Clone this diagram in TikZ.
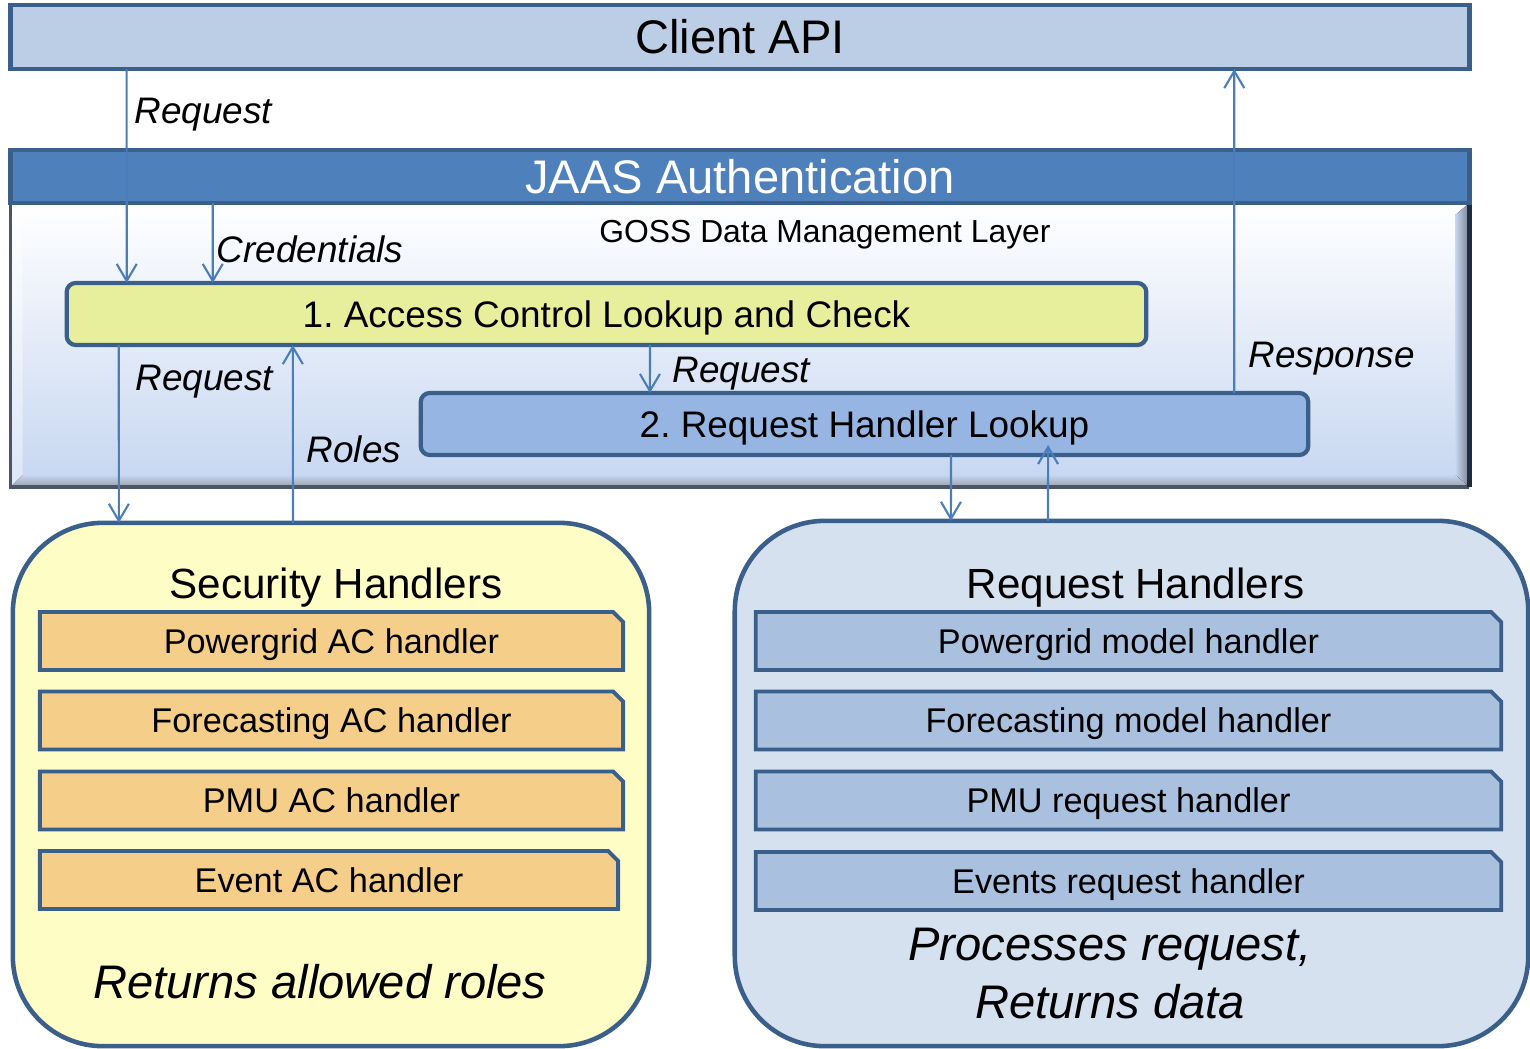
\documentclass[tikz,border=0pt]{standalone}
\usepackage{fontspec}
\setmainfont{Liberation Sans}
\usetikzlibrary{arrows.meta,shapes.misc}
\frenchspacing

\definecolor{edge}{HTML}{3A5F8B}
\definecolor{flowline}{HTML}{4A7EBB}
\definecolor{clientfill}{HTML}{BBCEE6}
\definecolor{jaasfill}{HTML}{4E80BC}
\definecolor{aclfill}{HTML}{E7EE9C}
\definecolor{rhlfill}{HTML}{96B5E3}
\definecolor{secfill}{HTML}{FFFDC6}
\definecolor{secitem}{HTML}{F5CE8A}
\definecolor{reqfill}{HTML}{D5E1EF}
\definecolor{reqitem}{HTML}{A9C0DF}
\definecolor{layerbot}{HTML}{C6D6F1}
\definecolor{layermid}{HTML}{D4E2F8}
\definecolor{layeredge}{HTML}{1E2B40}

\begin{document}
\begin{tikzpicture}[x=0.01cm, y=-0.01cm,
    bar/.style ={rectangle, draw=edge, line width=1.2pt, minimum width=14.58cm,
                 inner sep=0pt, outer sep=0pt, text height=9.6pt, text depth=0pt,
                 font=\fontsize{13.4}{16}\selectfont},
    lookup/.style ={rectangle, rounded corners=0.09cm, draw=edge, line width=1.2pt,
                 minimum height=0.62cm, inner sep=0pt, outer sep=0pt, text height=7.5pt, text depth=0pt,
                 font=\fontsize{10.5}{12.6}\selectfont},
    group/.style ={rectangle, rounded corners=0.9cm, draw=edge, line width=1.3pt,
                 inner sep=0pt, outer sep=0pt},
    handler/.style ={chamfered rectangle, chamfered rectangle corners=north east,
                 chamfered rectangle xsep=0.05cm, chamfered rectangle ysep=0.05cm,
                 draw=edge, line width=1.1pt, minimum height=0.58cm, inner sep=0pt,
                 text height=7pt, text depth=0pt,
                 font=\fontsize{9.75}{11.7}\selectfont},
    title/.style ={anchor=base, inner sep=0pt, font=\fontsize{12}{14}\selectfont},
    lbl/.style ={anchor=base west, inner sep=0pt, font=\fontsize{10.5}{12.6}\selectfont\itshape},
    flow/.style ={draw=flowline, line width=0.6pt, -{Straight Barb[length=0.17cm,width=0.2cm]}}]
   \useasboundingbox (0,0) rectangle (1530,1048);

   % management layer with bevel
   \node[rectangle, minimum width=14.58cm, minimum height=2.84cm, inner sep=0pt, outer sep=0pt,
         top color=white, middle color=layermid, bottom color=layerbot] (goss) at (740,345) {};
   \fill[white, opacity=0.7] (goss.north west) -- (goss.north east)
      -- ([xshift=-0.12cm,yshift=-0.12cm]goss.north east) -- ([xshift=0.12cm,yshift=-0.12cm]goss.north west) -- cycle;
   \fill[white, opacity=0.4] (goss.north west) -- ([xshift=0.12cm,yshift=-0.12cm]goss.north west)
      -- ([xshift=0.12cm,yshift=0.12cm]goss.south west) -- (goss.south west) -- cycle;
   \fill[left color=layerbot, right color=layeredge!60] (goss.north east) -- (goss.south east)
      -- ([xshift=-0.14cm,yshift=0.12cm]goss.south east) -- ([xshift=-0.14cm,yshift=-0.12cm]goss.north east) -- cycle;
   \fill[top color=layerbot, bottom color=layeredge!45] (goss.south west) -- ([xshift=0.12cm,yshift=0.12cm]goss.south west)
      -- ([xshift=-0.14cm,yshift=0.12cm]goss.south east) -- (goss.south east) -- cycle;
   \draw[layeredge!80, line width=1pt] (goss.north west) -- (goss.south west) -- (goss.south east);
   \draw[layeredge, line width=1.4pt] (goss.south east) -- (goss.north east);
   \node[anchor=base, inner sep=0pt, font=\fontsize{9.05}{11}\selectfont] (gosstitle) at (825,242) {GOSS Data Management Layer};

   \node[bar, fill=clientfill, minimum height=0.64cm] (client) at (740,37) {Client API};
   \node[bar, fill=jaasfill, text=white, minimum height=0.53cm] (jaas) at (740,176.5) {JAAS Authentication};

   \node[lookup, fill=aclfill, minimum width=10.79cm] (acl) at (606.5,314) {1. Access Control Lookup and Check};
   \node[lookup, fill=rhlfill, minimum width=8.87cm] (rhl) at (864.5,424) {2. Request Handler Lookup};

   % handler groups
   \node[group, fill=secfill, minimum width=6.36cm, minimum height=5.23cm] (sec) at (331,784.5) {};
   \node[title] (sectitle) at (336,598) {Security Handlers};
   \node[handler, fill=secitem, minimum width=5.83cm] (secA) at (331.5,641) {Powergrid AC handler};
   \node[handler, fill=secitem, minimum width=5.83cm] (secB) at (331.5,720.5) {Forecasting AC handler};
   \node[handler, fill=secitem, minimum width=5.83cm] (secC) at (331.5,800.5) {PMU AC handler};
   \node[handler, fill=secitem, minimum width=5.78cm] (secD) at (329,880) {Event AC handler};
   \node[anchor=base, inner sep=0pt, font=\fontsize{13.4}{16.5}\selectfont\itshape] (secnote) at (320,998) {Returns allowed roles};

   \node[group, fill=reqfill, minimum width=7.93cm, minimum height=5.25cm] (req) at (1131.5,783.5) {};
   \node[title] (reqtitle) at (1135.5,598) {Request Handlers};
   \node[handler, fill=reqitem, minimum width=7.45cm] (reqA) at (1128.5,641) {Powergrid model handler};
   \node[handler, fill=reqitem, minimum width=7.45cm] (reqB) at (1128.5,720.5) {Forecasting model handler};
   \node[handler, fill=reqitem, minimum width=7.45cm] (reqC) at (1128.5,800.5) {PMU request handler};
   \node[handler, fill=reqitem, minimum width=7.45cm] (reqD) at (1128.5,881) {Events request handler};
   \node[align=center, inner sep=0pt, font=\fontsize{13.4}{16.5}\selectfont\itshape] (reqnote) at (1110,974) {Processes request,\\Returns data};

   % flows
   \draw[flow] ([xshift=1.16cm]client.south west) to ([xshift=0.60cm]acl.north west);
   \draw[flow] ([xshift=2.02cm]jaas.south west) to ([xshift=1.46cm]acl.north west);
   \draw[flow] ([xshift=0.52cm]acl.south west) to ([xshift=1.06cm]sec.north west);
   \draw[flow] ([xshift=2.80cm]sec.north west) to ([xshift=2.26cm]acl.south west);
   \draw[flow] ([xshift=5.83cm]acl.south west) to ([xshift=2.29cm]rhl.north west);
   \draw[flow] ([xshift=8.13cm]rhl.north west) to ([xshift=12.23cm]client.south west);
   \draw[flow] ([xshift=5.30cm]rhl.south west) to ([xshift=2.16cm]req.north west);
   \draw[flow] ([xshift=3.13cm]req.north west) to ([xshift=6.27cm,yshift=0.1cm]rhl.south west);

   \node[lbl] (lreq1) at (134,123) {Request};
   \node[lbl] (lcred) at (216,262) {Credentials};
   \node[lbl] (lreq2) at (135,390) {Request};
   \node[lbl] (lroles) at (306,462) {Roles};
   \node[lbl] (lreq3) at (672,382) {Request};
   \node[lbl] (lresp) at (1248,367) {Response};
 \end{tikzpicture}
\end{document}
